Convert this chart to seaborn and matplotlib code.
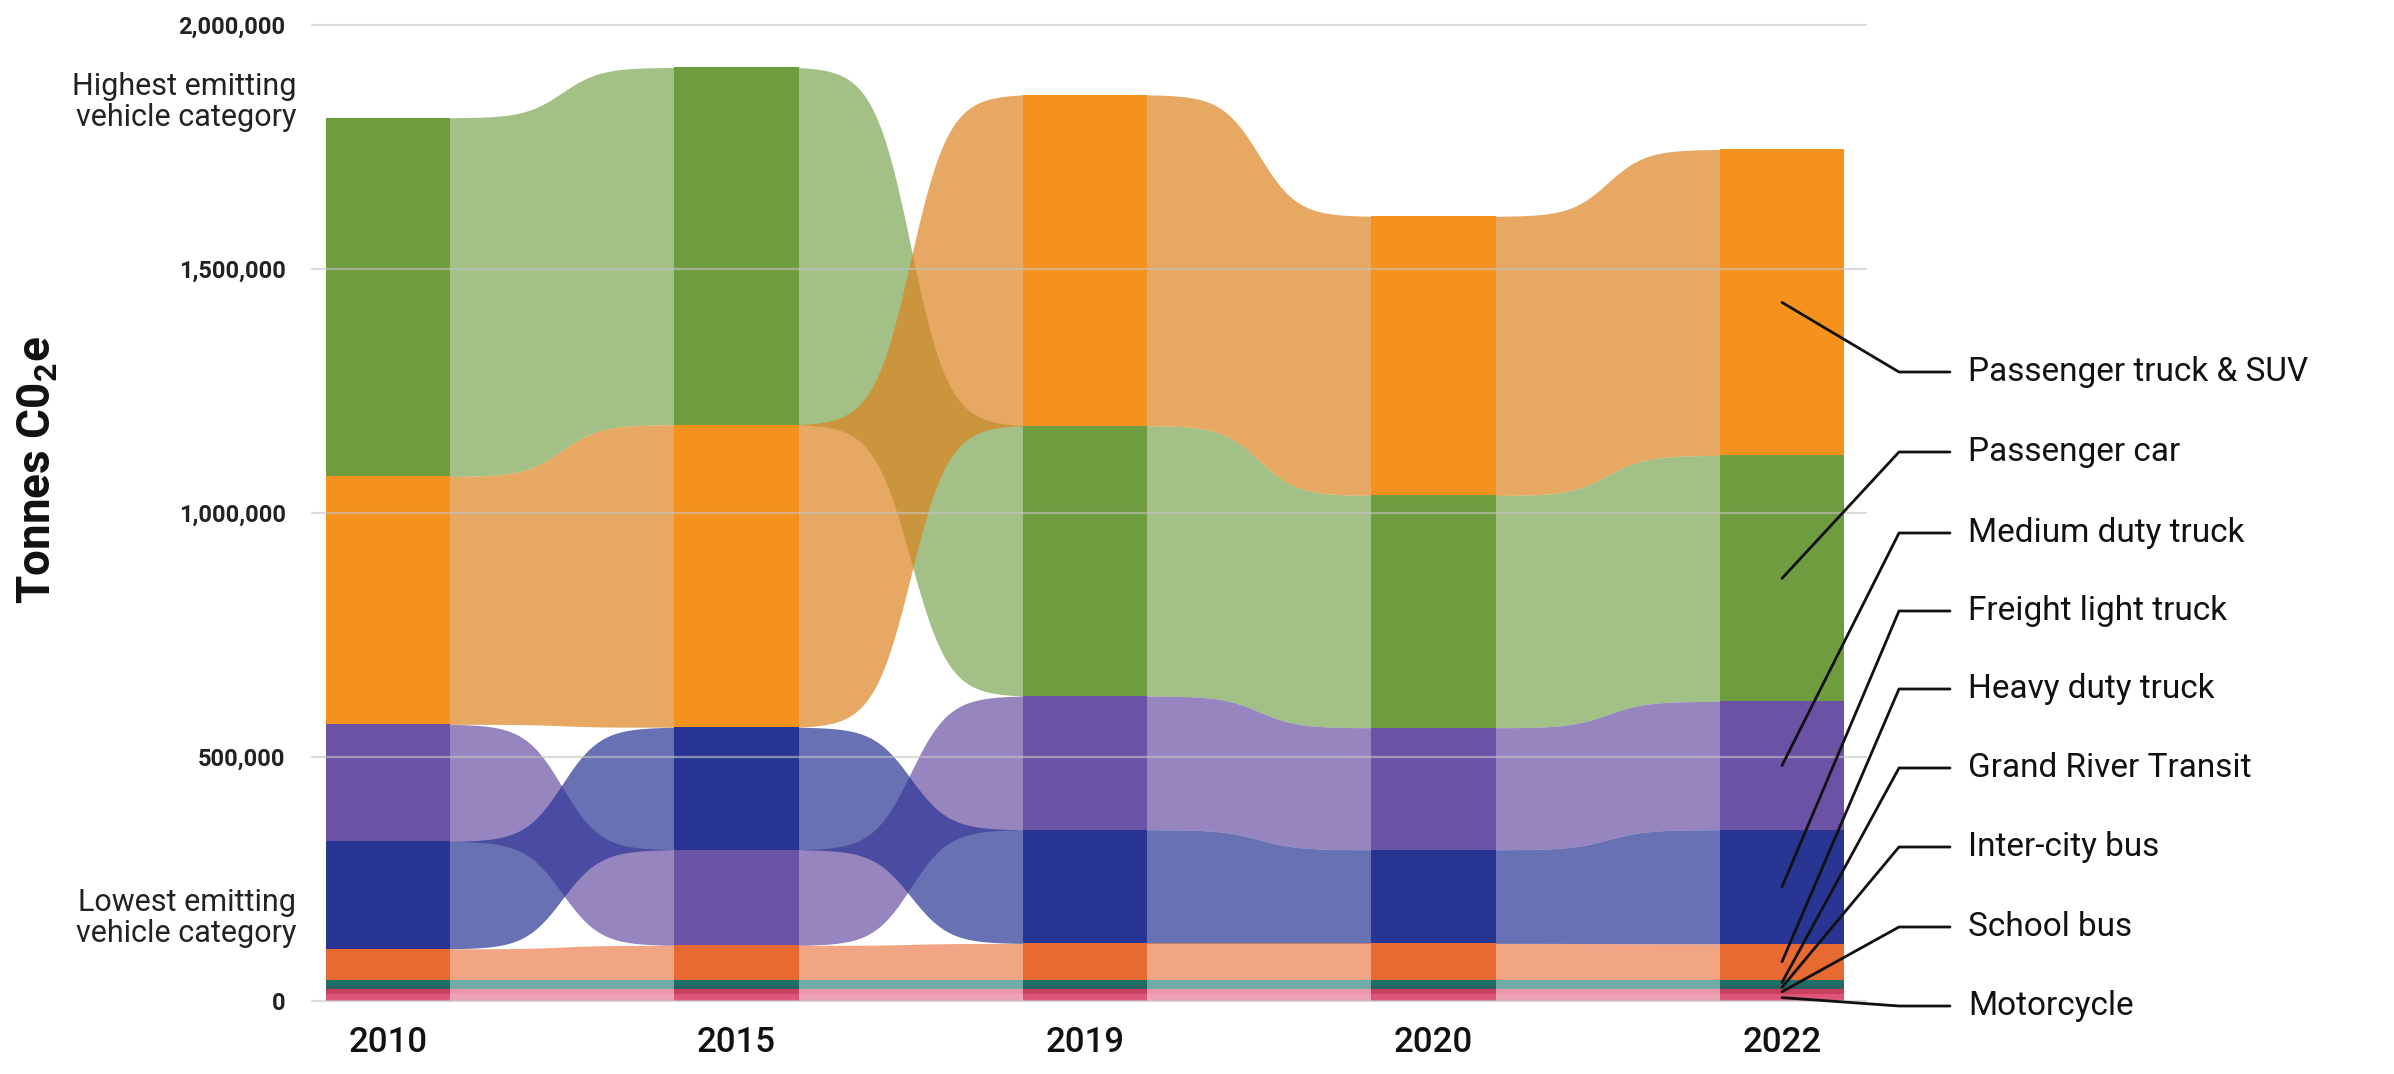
import numpy as np
import pandas as pd
import matplotlib
matplotlib.use("Agg")
import matplotlib.pyplot as plt
from matplotlib.lines import Line2D
from matplotlib.ticker import FuncFormatter
import seaborn as sns

# ---- data (tonnes CO2e) ----
years = ["2010", "2015", "2019", "2020", "2022"]
categories = ["Passenger truck & SUV", "Passenger car", "Medium duty truck",
              "Freight light truck", "Heavy duty truck", "Grand River Transit",
              "Inter-city bus", "School bus", "Motorcycle"]
truck_suv = [508000, 620000, 678000, 572000, 627000]
passenger_car = [735000, 732000, 554000, 476000, 504000]
medium_duty = [240000, 196000, 274000, 250000, 263000]
freight_light = [220000, 251000, 233000, 192000, 234000]
heavy_duty = [63000, 70000, 74000, 74000, 73000]
grand_river = [12000, 12000, 12000, 12000, 12000]
inter_city = [8000, 8000, 8000, 8000, 8000]
school_bus = [10000, 10000, 10000, 10000, 10000]
motorcycle = [14000, 14000, 14000, 14000, 14000]
y_ticks = [0, 500000, 1000000, 1500000, 2000000]

bar_colors = ["#f5921e", "#6f9c3f", "#6b52a5", "#283593", "#e86a33",
              "#1e706b", "#2a625f", "#c9405f", "#de5579"]
ribbon_colors = ["#dc831f", "#7ca753", "#6b52a5", "#283593", "#ed7f51",
                 "#328b83", "#3a8580", "#e56b8b", "#e87b97"]

values = dict(zip(categories, [truck_suv, passenger_car, medium_duty, freight_light,
                               heavy_duty, grand_river, inter_city, school_bus, motorcycle]))
big = categories[:4]
small = categories[4:]

# stack: largest of the big four on top, small ones fixed at the bottom
bottoms = {c: [0] * len(years) for c in categories}
tops = {c: [0] * len(years) for c in categories}
for j in range(len(years)):
    order = sorted(big, key=lambda c: values[c][j], reverse=True) + small
    y = 0
    for c in reversed(order):
        bottoms[c][j] = y
        y += values[c][j]
        tops[c][j] = y

rows = []
for c in categories:
    for j, yr in enumerate(years):
        rows.append({"year": yr, "category": c, "value": values[c][j], "bottom": bottoms[c][j]})
df = pd.DataFrame(rows)

# ---- plot ----
sns.set_theme(style="white")
plt.rcParams["font.family"] = ["Roboto", "DejaVu Sans"]
plt.rcParams["mathtext.default"] = "regular"

W, H = 2394, 1074
fig = plt.figure(figsize=(W / 100, H / 100), dpi=100, facecolor="white")
ax = fig.add_axes([312 / W, 73 / H, 1554 / W, 976 / H])

bar_w = 0.356
for cat, col in zip(categories, bar_colors):
    sub = df[df["category"] == cat]
    sns.barplot(data=sub, x="year", y="value", order=years, bottom=sub["bottom"].to_numpy(),
                color=col, saturation=1, width=bar_w, errorbar=None, ax=ax,
                linewidth=0, zorder=3)


def ease(t, k=12):
    s = 1 / (1 + np.exp(-k * (t - 0.5)))
    s0 = 1 / (1 + np.exp(k * 0.5))
    s1 = 1 / (1 + np.exp(-k * 0.5))
    return (s - s0) / (s1 - s0)


t = np.linspace(0, 1, 300)
draw_order = [1, 0, 2, 3, 4, 5, 6, 7, 8]
for i in range(len(years) - 1):
    x0 = i + bar_w / 2 - 0.005
    x1 = i + 1 - bar_w / 2 + 0.005
    xs = x0 + (x1 - x0) * t
    for k in draw_order:
        c = categories[k]
        lo = bottoms[c][i] + (bottoms[c][i + 1] - bottoms[c][i]) * ease(t)
        hi = tops[c][i] + (tops[c][i + 1] - tops[c][i]) * ease(t)
        ax.fill_between(xs, lo, hi, color=ribbon_colors[k], alpha=0.7, lw=0, zorder=1)

for v in y_ticks:
    ax.axhline(v, color="#c4c4c4", lw=1.6, alpha=0.6, zorder=5, clip_on=False)

ax.set_xlim(-0.218, 4.241)
ax.set_ylim(0, 2000000)
ax.set_yticks(y_ticks)
ax.yaxis.set_major_formatter(FuncFormatter(lambda v, p: f"{v:,.0f}"))
ax.tick_params(axis="y", length=0, pad=19, labelsize=17, labelcolor="#222222")
for lab in ax.get_yticklabels():
    lab.set_fontweight("bold")
ax.set_xticks(range(len(years)))
ax.set_xticklabels(years)
ax.tick_params(axis="x", length=0, pad=18, labelsize=25, labelcolor="#111111")
for lab in ax.get_xticklabels():
    lab.set_fontweight(500)
ax.set_xlabel("")
ax.set_ylabel("")
sns.despine(ax=ax, left=True, bottom=True)
ax.grid(False)

fig.text(38 / W, 1 - 470 / H, "Tonnes C0$_2$e", rotation=90, ha="center", va="center",
         fontsize=33, fontweight="bold", color="#111111")
fig.text(296 / W, 1 - 102 / H, "Highest emitting\nvehicle category", ha="right", va="center",
         fontsize=22, linespacing=1.1, color="#222222")
fig.text(296 / W, 1 - 918 / H, "Lowest emitting\nvehicle category", ha="right", va="center",
         fontsize=22, linespacing=1.1, color="#222222")

# labels with leader lines pointing into the 2022 bar
label_y_px = [372, 452, 533, 611, 689, 768, 847, 927, 1006]
last = len(years) - 1
inv = fig.transFigure.inverted()
for c, ypx in zip(categories, label_y_px):
    mid = (bottoms[c][last] + tops[c][last]) / 2
    ex, ey = inv.transform(ax.transData.transform((last, mid)))
    yf = 1 - ypx / H
    fig.add_artist(Line2D([1950 / W, 1899 / W, ex], [yf, yf, ey], color="#111111", lw=2,
                          transform=fig.transFigure, zorder=10))
    fig.text(1968 / W, yf, c, ha="left", va="center", fontsize=24, color="#111111")

fig.savefig("out.png", dpi=100, facecolor="white")
